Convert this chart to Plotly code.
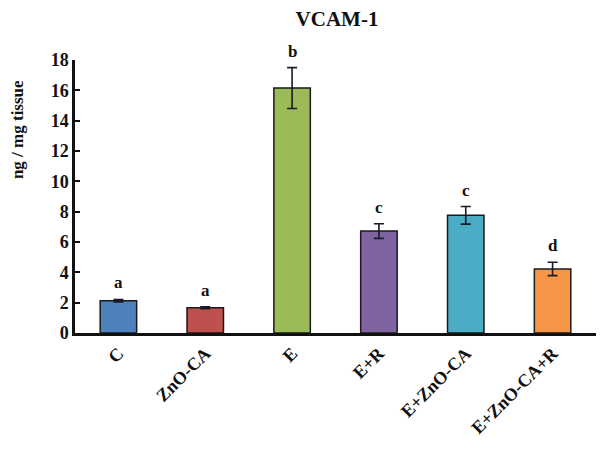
import plotly.graph_objects as go

categories = ["C", "ZnO-CA", "E", "E+R", "E+ZnO-CA", "E+ZnO-CA+R"]
values = [2.13, 1.67, 16.15, 6.72, 7.76, 4.22]
errors = [0.08, 0.06, 1.35, 0.48, 0.58, 0.44]
letters = ["a", "a", "b", "c", "c", "d"]
colors = ["#4F81BD", "#C0504D", "#9BBB59", "#8064A2", "#4BACC6", "#F79646"]
y_ticks = [0, 2, 4, 6, 8, 10, 12, 14, 16, 18]

serif = "Liberation Serif, serif"

fig = go.Figure()
fig.add_trace(go.Bar(
    x=categories, y=values,
    marker=dict(color=colors, line=dict(color="#1a1a1a", width=1.5)),
    error_y=dict(type="data", array=errors, visible=True,
                 color="#1a1a2a", thickness=1.6, width=5),
    showlegend=False,
))

for c, v, e, l in zip(categories, values, errors, letters):
    fig.add_annotation(x=c, y=v + e, text="<b>%s</b>" % l, showarrow=False,
                       yanchor="bottom", yshift=5,
                       font=dict(family=serif, size=17, color="#111111"))

fig.add_annotation(xref="paper", yref="paper", x=-0.109, y=0.744,
                   text="<b>ng / mg tissue</b>", textangle=-90, showarrow=False,
                   xanchor="center", yanchor="middle",
                   font=dict(family=serif, size=17, color="#111111"))

fig.update_layout(
    width=596, height=442,
    margin=dict(l=67, r=8, t=52, b=117),
    paper_bgcolor="white", plot_bgcolor="white",
    bargap=0.58,
    title=dict(text="<b>VCAM-1</b>", x=0.552, xanchor="center", y=0.976,
               yanchor="middle",
               font=dict(family=serif, size=21, color="#111111")),
    xaxis=dict(showline=True, linecolor="#111111", linewidth=2.5,
               ticks="", tickangle=-45, showgrid=False,
               ticktext=["<b>%s</b>" % c for c in categories],
               tickvals=categories,
               tickfont=dict(family=serif, size=18, color="#111111")),
    yaxis=dict(range=[0, 18], tickvals=y_ticks,
               ticktext=["<b>%d</b>" % t for t in y_ticks],
               showline=True, linecolor="#111111", linewidth=2.5,
               ticks="inside", ticklen=5, tickwidth=2, tickcolor="#111111",
               showgrid=False, zeroline=False,
               tickfont=dict(family=serif, size=18, color="#111111")),
)

fig.write_html("out.html")
